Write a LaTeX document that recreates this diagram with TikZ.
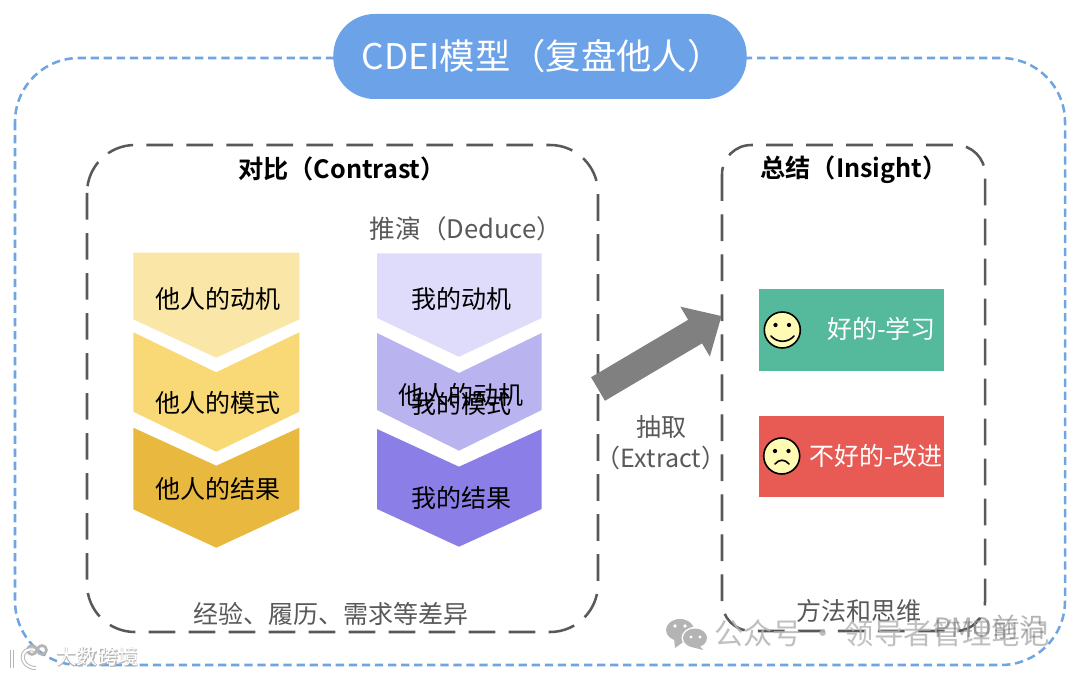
\documentclass[tikz,border=0pt]{standalone}
\usepackage{fontspec}
\usetikzlibrary{arrows.meta}
\setmainfont{Noto Sans CJK SC}
\newfontfamily\cdeibold{Noto Sans CJK SC Bold}
\newcommand{\fs}[1]{\fontsize{#1}{#1}\selectfont}
\definecolor{bluedash}{HTML}{6FA5E0}
\definecolor{titleblue}{HTML}{6CA2E8}
\definecolor{graydash}{HTML}{595959}
\definecolor{labelgray}{HTML}{595959}
\definecolor{ya}{HTML}{FAE6A6}
\definecolor{yb}{HTML}{F8D976}
\definecolor{yc}{HTML}{E9B93F}
\definecolor{pa}{HTML}{DEDBFB}
\definecolor{pb}{HTML}{B9B3F0}
\definecolor{pc}{HTML}{8B7EE7}
\definecolor{goodgreen}{HTML}{55B99B}
\definecolor{badred}{HTML}{E85A54}
\definecolor{facey}{HTML}{FFFBB5}
\definecolor{wmgray}{HTML}{B4B4B4}
\tikzset{
  x=0.75pt,y=-0.75pt,
  outerbox/.style={draw=bluedash,line width=1.9pt,dash pattern=on 6.2pt off 3.6pt,rounded corners=48pt},
  innerbox/.style={draw=graydash,line width=1.9pt,dash pattern=on 20pt off 10pt},
  chev/.style={font=\fs{18.75},text=black,inner sep=0pt,anchor=center},
  boxlabel/.style={font=\fs{18.75},text=labelgray,inner sep=0pt,anchor=center},
  headlabel/.style={font=\cdeibold\fs{18.9},text=black,inner sep=0pt,anchor=center},
  statebox/.style={font=\fs{18.75},text=white,inner sep=0pt,anchor=west},
  face/.style={circle,draw=black,line width=1.2pt,fill=facey,minimum size=27pt,inner sep=0pt},
  wm/.style={inner sep=0pt,anchor=west,text=wmgray,opacity=.85},
}
\begin{document}
\begin{tikzpicture}
\useasboundingbox (0,0) rectangle (1080,677);
\fill[white] (0,0) rectangle (1080,677);
% outer dashed frame
\draw[outerbox] (15,58) rectangle (1065,665);
% title
\node[fill=titleblue,rounded corners=31pt,minimum width=310pt,minimum height=63.75pt,inner sep=0pt] (title) at (540,56.5) {};
\node[text=white,font=\fs{26.5},inner sep=0pt] (titletext) at (542,56.5) {CDEI模型（复盘他人）};
% dashed groups
\draw[innerbox,rounded corners=36pt] (87,145) rectangle (598,632);
\draw[innerbox,rounded corners=22pt] (722,145) rectangle (985,631);
\node[headlabel] (contrast) at (342,169) {对比（Contrast）};
\node[headlabel] (insight) at (854,170) {总结（Insight）};
\node[boxlabel,font=\fs{19.2}] (deduce) at (466,229) {推演（Deduce）};
\node[boxlabel] (diff) at (331,614) {经验、履历、需求等差异};
\node[boxlabel] (method) at (859,611) {方法和思维};
% left chevrons
\fill[ya] (133.3,252.7) -- (299.3,252.7) -- (299.3,319.3) -- (216.3,357.7) -- (133.3,319.3) -- cycle;
\fill[yb] (133.3,332.3) -- (216.3,372.3) -- (299.3,332.3) -- (299.3,411.7) -- (216.3,451.7) -- (133.3,411.7) -- cycle;
\fill[yc] (133.3,427.7) -- (216.3,465.7) -- (299.3,427.7) -- (299.3,509.3) -- (216.3,547.7) -- (133.3,509.3) -- cycle;
\node[chev] (l1) at (218,299) {他人的动机};
\node[chev] (l2) at (218,403) {他人的模式};
\node[chev] (l3) at (218,489) {他人的结果};
% right chevrons
\fill[pa] (377,253.3) -- (541.7,253.3) -- (541.7,318) -- (459,356.7) -- (377,318) -- cycle;
\fill[pb] (377,333) -- (459,373) -- (541.7,333) -- (541.7,410) -- (459,450.7) -- (377,410) -- cycle;
\fill[pc] (377,429) -- (459,466.7) -- (541.7,429) -- (541.7,509) -- (459,546.7) -- (377,509) -- cycle;
\node[chev] (r1) at (461,299) {我的动机};
\node[chev] (r2) at (461,395) {他人的动机};
\node[chev] (r2b) at (461,404) {我的模式};
\node[chev] (r3) at (461,498) {我的结果};
% extract arrow
\coordinate (arrowtail) at (598,389);
\coordinate (arrowtip) at (721.5,316);
\draw[line width=20.5pt,draw=black!50,-{Triangle[length=23pt,width=42pt]}] (arrowtail) -- (arrowtip);
\node[boxlabel] (extracta) at (661,427) {抽取};
\node[boxlabel] (extractb) at (661,458) {（Extract）};
% state boxes
\node[fill=goodgreen,minimum width=138.75pt,minimum height=61pt,inner sep=0pt] (good) at (851.5,330) {};
\node[fill=badred,minimum width=138.75pt,minimum height=61pt,inner sep=0pt] (bad) at (851.5,456.5) {};
\node[statebox] (goodt) at (827,329) {好的-学习};
\node[statebox] (badt) at (809,456) {不好的-改进};
\node[face] (smile) at (782.3,330) {};
\node[face] (frown) at (781.7,456) {};
\fill (775.5,325) circle (1.6pt) (789,325) circle (1.6pt);
\draw[line width=1.2pt,line cap=round] (771,336) .. controls (777,343) and (788,343) .. (794,336);
\fill (775,451) circle (1.6pt) (788.5,451) circle (1.6pt);
\draw[line width=1.2pt,line cap=round] (775,464) .. controls (779,459) and (785,459) .. (789,464);
% watermarks
\fill[wmgray] (680,630) ellipse (14 and 11);
\fill[wmgray] (674,638) -- (675,648) -- (686,640) -- cycle;
\fill[white] (695,638) ellipse (13.5 and 11);
\fill[wmgray] (695,638) ellipse (12 and 9.5);
\fill[wmgray] (699,645) -- (703,650) -- (692,647) -- cycle;
\fill[white] (675,626) circle (1.8) (685,626) circle (1.8) (691,637) circle (1.6) (700,637) circle (1.6);
\node[wm,font=\fs{22}] (wechat) at (714,633) {公众号 · 领导者管理笔记};
\node[wm,text=graydash,opacity=.45,font=\fs{20}] (pmo) at (934,627) {PMO前沿};
\begin{scope}[draw=wmgray,line width=3pt]
\draw (12,650) -- (12,668);
\draw (35,650) .. controls (19,645) and (18,668) .. (36,668);
\draw[line width=2pt] (32,650) circle (4.5) (42,650) circle (4.5);
\end{scope}
\begin{scope}[draw=white,line width=1.6pt]
\draw (12,650) -- (12,668);
\draw (35,650) .. controls (19,645) and (18,668) .. (36,668);
\end{scope}
\node[inner sep=0pt,anchor=west,text=wmgray,font=\cdeibold\fs{15.5}] (bigdatas) at (56.7,657.7) {大数跨境};
\node[inner sep=0pt,anchor=west,text=white,font=\fs{15.5}] (bigdata) at (56,657) {大数跨境};
\end{tikzpicture}
\end{document}
